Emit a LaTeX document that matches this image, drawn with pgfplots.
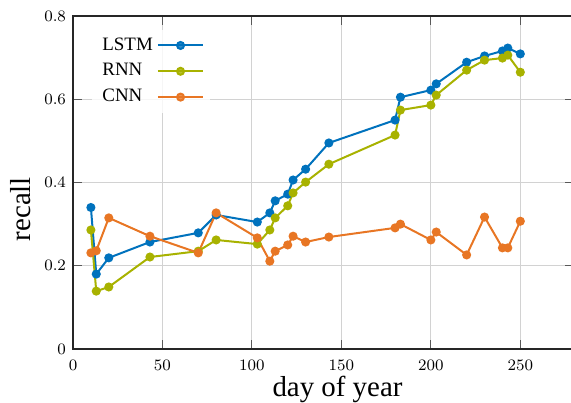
\documentclass[border=0pt]{standalone}
\usepackage{fontspec}
\setmainfont{Liberation Serif}
\usepackage{pgfplots}
\pgfplotsset{compat=1.18}
\definecolor{lstm}{RGB}{0,114,189}
\definecolor{rnn}{RGB}{168,178,0}
\definecolor{cnn}{RGB}{232,118,36}
\begin{document}
\begin{tikzpicture}
\useasboundingbox (-36.5bp,-27bp) rectangle (249bp,174.5bp);
\begin{axis}[
  scale only axis, width=250.5bp, height=166.5bp,
  xmin=0, xmax=280, ymin=0, ymax=0.8,
  xtick={0,50,100,150,200,250}, ytick={0,0.2,0.4,0.6,0.8},
  grid=major, grid style={gray!35, line width=0.5bp},
  tick align=inside, major tick length=4.5bp,
  tick style={gray!70!black, line width=0.5bp},
  axis line style={line width=0.6bp, black!85},
  tick label style={font=\footnotesize},
  xticklabel style={yshift=-2bp},
  xlabel={day of year}, ylabel={recall},
  label style={font=\fontsize{14.5}{17}\selectfont},
  xlabel style={xshift=7bp, yshift=3.8bp},
  ylabel style={at={(ticklabel cs:0.42)}},
  every axis plot/.append style={line width=1bp, mark=*, mark size=1.75bp},
  legend plot pos=right,
  legend cell align=left,
  legend image code/.code={\draw[mark repeat=2,mark phase=2] plot coordinates {(0cm,0cm) (0.4cm,0cm) (0.8cm,0cm)};},
  legend style={draw=none, fill=white, fill opacity=0.8, text opacity=1,
    at={(0.038,0.96)}, anchor=north west, font=\fontsize{9.5}{11}\selectfont,
    row sep=1.2bp},
]
\addplot[color=lstm] coordinates {
(10,0.340) (13,0.180) (20,0.219) (43,0.257) (70,0.279) (80,0.322) (103,0.305)
(110,0.327) (113,0.356) (120,0.372) (123,0.406) (130,0.432) (143,0.495)
(180,0.550) (183,0.605) (200,0.622) (203,0.637) (220,0.689) (230,0.704)
(240,0.716) (243,0.723) (250,0.709)};
\addlegendentry{LSTM}
\addplot[color=rnn] coordinates {
(10,0.286) (13,0.139) (20,0.149) (43,0.221) (70,0.235) (80,0.262) (103,0.252)
(110,0.286) (113,0.315) (120,0.344) (123,0.375) (130,0.401) (143,0.444)
(180,0.514) (183,0.574) (200,0.586) (203,0.610) (220,0.670) (230,0.694)
(240,0.699) (243,0.706) (250,0.665)};
\addlegendentry{RNN}
\addplot[color=cnn] coordinates {
(10,0.231) (13,0.236) (20,0.315) (43,0.271) (70,0.231) (80,0.327) (103,0.267)
(110,0.211) (113,0.235) (120,0.250) (123,0.271) (130,0.257) (143,0.269)
(180,0.291) (183,0.300) (200,0.262) (203,0.281) (220,0.226) (230,0.317)
(240,0.243) (243,0.243) (250,0.307)};
\addlegendentry{CNN}
\end{axis}
\end{tikzpicture}
\end{document}
